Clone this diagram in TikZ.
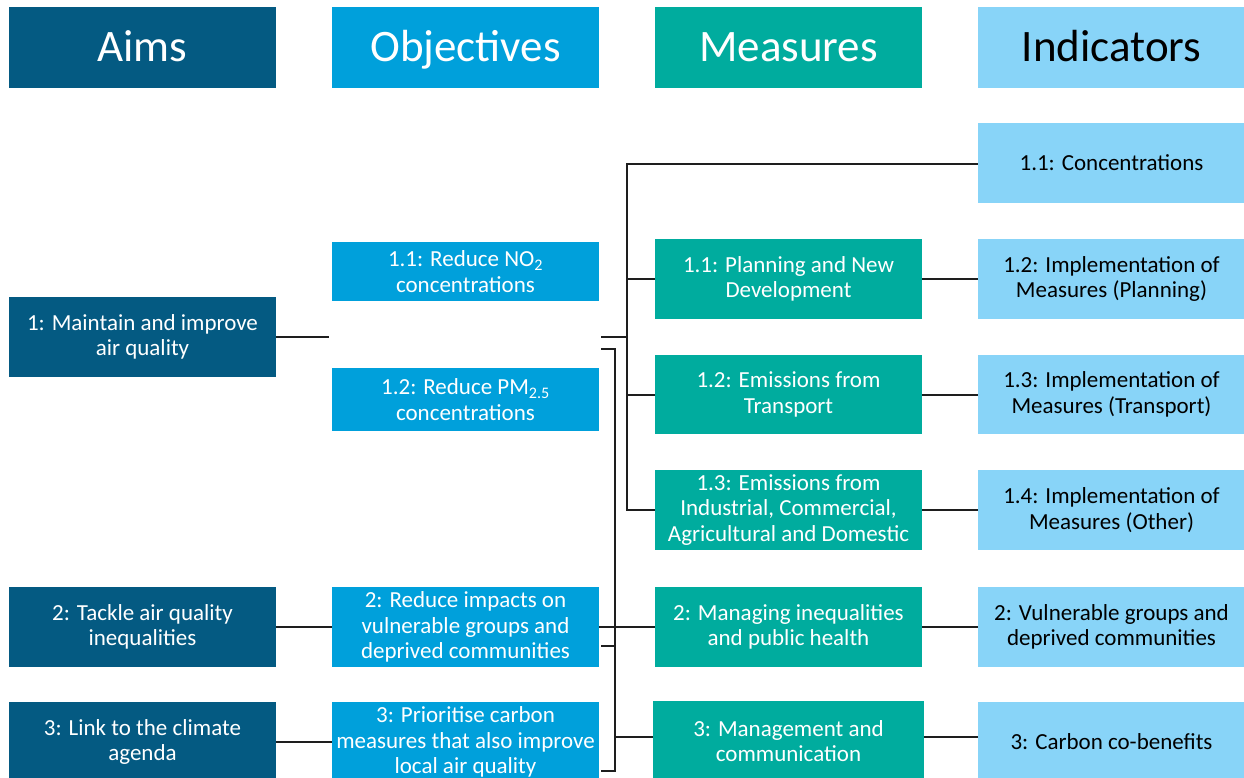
\documentclass[tikz,border=0pt]{standalone}
\usepackage{fontspec}
\setmainfont{Carlito}
\definecolor{aimc}{HTML}{045A82}
\definecolor{objc}{HTML}{00A0DB}
\definecolor{meac}{HTML}{00AC9E}
\definecolor{indc}{HTML}{88D4F8}
\definecolor{linec}{HTML}{1E1E1E}
\tikzset{
  box/.style={rectangle, inner sep=0pt, minimum width=267pt, minimum height=80pt, align=center, font=\fontsize{23}{25.5}\selectfont},
  head/.style={minimum height=81pt, font=\fontsize{45}{50}\selectfont, text height=35pt, text depth=6pt},
  aimbox/.style={box, fill=aimc, text=white},
  objbox/.style={box, fill=objc, text=white},
  meabox/.style={box, fill=meac, text=white},
  indbox/.style={box, fill=indc, text=black},
  conn/.style={draw=linec, line width=2pt},
}
\begin{document}
\begin{tikzpicture}[x=1pt,y=-1pt]
\useasboundingbox (0,0) rectangle (1244,778);
\clip (0,0) rectangle (1244,778);
% headers
\node[aimbox, head] (hA) at (142.5,47.5) {Aims};
\node[objbox, head] (hO) at (465.5,47.5) {Objectives};
\node[meabox, head] (hM) at (788.5,47.5) {Measures};
\node[indbox, head] (hI) at (1111.5,47.5) {Indicators};
% aims
\node[aimbox] (a1) at (142.5,337) {1: Maintain and improve\\air quality};
\node[aimbox] (a2) at (142.5,627) {2: Tackle air quality\\inequalities};
\node[aimbox] (a3) at (142.5,742) {3: Link to the climate\\agenda};
% objectives
\node[objbox, minimum height=59pt] (o11) at (465.5,271.5) {1.1: Reduce NO\textsubscript{2}\\concentrations};
\node[objbox, minimum height=63pt] (o12) at (465.5,399.5) {1.2: Reduce PM\textsubscript{2.5}\\concentrations};
\node[objbox] (o2) at (465.5,627) {2: Reduce impacts on\\vulnerable groups and\\deprived communities};
\node[objbox] (o3) at (465.5,742) {3: Prioritise carbon\\measures that also improve\\local air quality};
% measures
\node[meabox] (m11) at (788.5,279) {1.1: Planning and New\\Development};
\node[meabox, minimum height=79pt] (m12) at (788.5,394.5) {1.2: Emissions from\\Transport};
\node[meabox] (m13) at (788.5,510) {1.3: Emissions from\\Industrial, Commercial,\\Agricultural and Domestic};
\node[meabox] (m2) at (788.5,627) {2: Managing inequalities\\and public health};
\node[meabox, minimum width=271pt] (m3) at (788.5,741) {3: Management and\\communication};
% indicators
\node[indbox] (i11) at (1111.5,163) {1.1: Concentrations};
\node[indbox] (i12) at (1111.5,279) {1.2: Implementation of\\Measures (Planning)};
\node[indbox, minimum height=79pt] (i13) at (1111.5,394.5) {1.3: Implementation of\\Measures (Transport)};
\node[indbox] (i14) at (1111.5,510) {1.4: Implementation of\\Measures (Other)};
\node[indbox] (i2) at (1111.5,627) {2: Vulnerable groups and\\deprived communities};
\node[indbox] (i3) at (1111.5,742) {3: Carbon co-benefits};
% coordinates
\coordinate (aEnd) at (329,337);
\coordinate (oA) at (601,337);
\coordinate (oB) at (601,349);
\coordinate (t1) at (627,164);
\coordinate (t1b) at (627,510);
\coordinate (t2) at (615,349);
\coordinate (t2b) at (615,771);
\coordinate (oC) at (601,646);
\coordinate (oD) at (601,771);
% aim -> objective
\draw[conn] (a1.east) -- (aEnd);
\draw[conn] (a2.east) -- (o2.west);
\draw[conn] (a3.east) -- (o3.west);
% objective 1 -> measures 1.x and indicator 1.1
\draw[conn] (oA) -- (oA -| t1);
\draw[conn] (i11.west |- t1) -- (t1) -- (t1b) -- (m13.west);
\draw[conn] (t1 |- m11.west) -- (m11.west);
\draw[conn] (t1 |- m12.west) -- (m12.west);
% second trunk
\draw[conn] (oB) -- (t2) -- (t2b) -- (oD);
\draw[conn] (oC) -- (oC -| t2);
\draw[conn] (o2.east) -- (m2.west);
\draw[conn] ([yshift=4pt]m3.west -| t2) -- ([yshift=4pt]m3.west);
% measure -> indicator
\draw[conn] (m11.east) -- (i12.west);
\draw[conn] (m12.east) -- (i13.west);
\draw[conn] (m13.east) -- (i14.west);
\draw[conn] (m2.east) -- (i2.west);
\draw[conn] ([yshift=4pt]m3.east) -- ([yshift=4pt]m3.east -| i3.west);
\end{tikzpicture}
\end{document}
